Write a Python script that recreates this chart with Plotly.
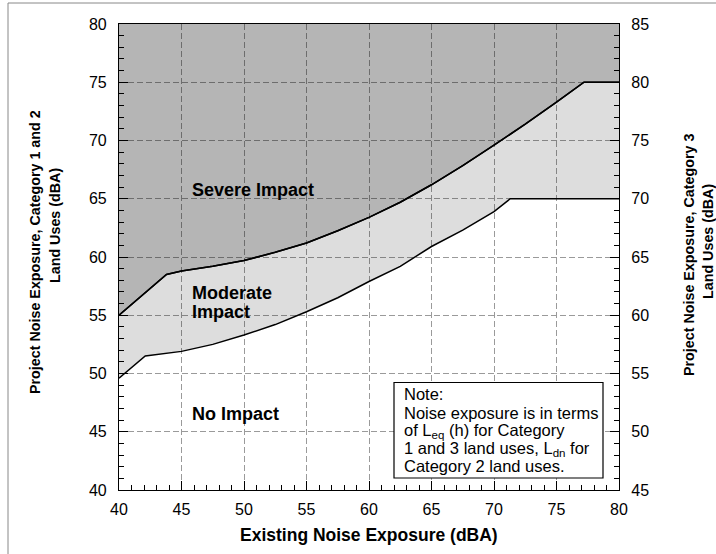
import plotly.graph_objects as go

# Severe impact threshold (upper curve)
severe_x = [40, 43.8, 45, 47.5, 50, 52.5, 55, 57.5, 60, 62.5, 65, 67.5, 70, 72.5, 75, 77.2, 80]
severe_y = [55, 58.5, 58.8, 59.2, 59.7, 60.4, 61.2, 62.25, 63.4, 64.7, 66.2, 67.85, 69.6, 71.4, 73.3, 75, 75]

# Moderate impact threshold (lower curve)
moderate_x = [40, 42.1, 45, 47.5, 50, 52.5, 55, 57.5, 60, 62.5, 65, 67.5, 70, 71.3, 80]
moderate_y = [49.6, 51.5, 51.9, 52.5, 53.3, 54.2, 55.3, 56.5, 57.9, 59.2, 60.9, 62.3, 63.9, 65, 65]

ceiling_x = [40, 80]
ceiling_y = [80, 80]

x_ticks = [40, 45, 50, 55, 60, 65, 70, 75, 80]
y_ticks = [40, 45, 50, 55, 60, 65, 70, 75, 80]
y2_ticks = [45, 50, 55, 60, 65, 70, 75, 80, 85]

x_title = "Existing Noise Exposure (dBA)"
y_title_lines = ["Project Noise Exposure, Category 1 and 2", "Land Uses (dBA)"]
y2_title_lines = ["Project Noise Exposure, Category 3", "Land Uses (dBA)"]

note_lines = [
    "Note:",
    "Noise exposure is in terms",
    "of L<sub>eq</sub> (h) for Category",
    "1 and 3 land uses, L<sub>dn</sub> for",
    "Category 2 land uses.",
]

FONT = "Liberation Sans, Arial, sans-serif"
DARK = "rgba(0,0,0,0.29)"
LIGHT = "rgba(0,0,0,0.135)"

fig = go.Figure()
fig.add_trace(go.Scatter(x=severe_x, y=severe_y, mode="lines",
                         line=dict(color="black", width=1.5), showlegend=False, hoverinfo="skip"))
fig.add_trace(go.Scatter(x=ceiling_x, y=ceiling_y, mode="lines", fill="tonexty",
                         fillcolor=DARK, line=dict(width=0), showlegend=False, hoverinfo="skip"))
fig.add_trace(go.Scatter(x=moderate_x, y=moderate_y, mode="lines",
                         line=dict(color="black", width=1.5), showlegend=False, hoverinfo="skip"))
fig.add_trace(go.Scatter(x=severe_x, y=severe_y, mode="lines", fill="tonexty",
                         fillcolor=LIGHT, line=dict(color="black", width=1.5), showlegend=False, hoverinfo="skip"))
# invisible trace to activate right axis
fig.add_trace(go.Scatter(x=ceiling_x, y=[y2_ticks[0], y2_ticks[-1]], yaxis="y2", mode="lines",
                         line=dict(width=0), showlegend=False, hoverinfo="skip"))

axis_common = dict(
    showline=True, linecolor="black", linewidth=1.2,
    ticks="inside", ticklen=9, tickcolor="black", tickwidth=1,
    tickfont=dict(family=FONT, size=16, color="black"),
    zeroline=False,
)
minor = dict(dtick=1, ticks="inside", ticklen=5, tickcolor="black", showgrid=False)
GRID = dict(showgrid=True, gridcolor="#9a9a9a", griddash="6px,3px", gridwidth=1)

# plot area at x 119..619, y 24..490 of the 716x554 page
PL, PR, PT, PB = 119, 619, 24, 490
W, H = 716, 554
fig.update_layout(
    width=W, height=H,
    margin=dict(l=PL, r=W - PR, t=PT, b=H - PB),
    paper_bgcolor="white", plot_bgcolor="white",
    font=dict(family=FONT, color="black"),
    xaxis=dict(range=[40, 80], tickvals=x_ticks, mirror=True, ticklabelstandoff=5,
               minor=minor, **GRID, **axis_common),
    yaxis=dict(range=[40, 80], tickvals=y_ticks, mirror=True, ticklabelstandoff=8,
               minor=minor, **GRID, **axis_common),
    yaxis2=dict(range=[45, 85], tickvals=y2_ticks, overlaying="y", side="right",
                showgrid=False, ticklabelstandoff=8, minor=minor, **axis_common),
)


def px(xp):
    return (xp - PL) / (PR - PL)


def py(yp):
    return (PB - yp) / (PB - PT)


ann = []
ann.append(dict(text=f"<b>{x_title}</b>", xref="paper", yref="paper",
                x=0.5, y=py(535), xanchor="center", yanchor="middle",
                showarrow=False, font=dict(size=17.5, family=FONT)))
for txt, (cx, cy) in zip(y_title_lines, [(35, 252), (55, 226)]):
    ann.append(dict(text=f"<b>{txt}</b>", xref="paper", yref="paper", x=px(cx), y=py(cy),
                    textangle=-90, xanchor="center", yanchor="middle",
                    showarrow=False, font=dict(size=14.3, family=FONT)))
for txt, (cx, cy) in zip(y2_title_lines, [(689, 255), (708, 242)]):
    ann.append(dict(text=f"<b>{txt}</b>", xref="paper", yref="paper", x=px(cx), y=py(cy),
                    textangle=-90, xanchor="center", yanchor="middle",
                    showarrow=False, font=dict(size=14.3, family=FONT)))
ann.append(dict(text="<b>Severe Impact</b>", x=45.68, y=65.75, xanchor="left",
                showarrow=False, font=dict(size=18, family=FONT)))
ann.append(dict(text="<b>Moderate</b>", x=45.68, y=56.9, xanchor="left",
                showarrow=False, font=dict(size=18, family=FONT)))
ann.append(dict(text="<b>Impact</b>", x=45.68, y=55.3, xanchor="left",
                showarrow=False, font=dict(size=18, family=FONT)))
ann.append(dict(text="<b>No Impact</b>", x=45.7, y=46.5, xanchor="left",
                showarrow=False, font=dict(size=18, family=FONT)))

# note box: rectangle plus one text row per line
fig.add_shape(type="rect", xref="paper", yref="paper", x0=px(394), x1=px(603), y0=py(478), y1=py(382.5),
              line=dict(color="black", width=1.2), fillcolor="white", layer="above")
row_px = [394, 412.5, 431, 448.5, 466]
for txt, ry in zip(note_lines, row_px):
    ann.append(dict(text=txt, xref="paper", yref="paper", x=px(401.5),
                    y=py(ry), xanchor="left", yanchor="middle", align="left",
                    showarrow=False, font=dict(size=16.5, family=FONT)))
fig.update_layout(annotations=ann)

# thin frame of the figure (left and top edges)
fig.add_shape(type="line", xref="paper", yref="paper", x0=px(8), x1=px(8), y0=py(3), y1=py(560),
              line=dict(color="#888", width=1))
fig.add_shape(type="line", xref="paper", yref="paper", x0=px(8), x1=px(720), y0=py(3), y1=py(3),
              line=dict(color="#888", width=1))

fig.write_html("out.html", config={"displayModeBar": False},
               post_script="document.body.style.margin='0';")
